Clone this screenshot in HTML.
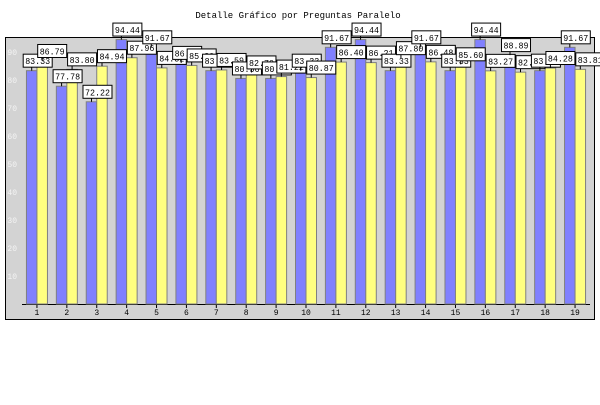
<!DOCTYPE html>
<html><head><meta charset="utf-8"><style>
body{margin:0;background:#fff;}
text{font-family:"Liberation Mono",monospace;}
</style></head><body>
<svg id="chart" width="600" height="400" xmlns="http://www.w3.org/2000/svg">
<text x="298" y="18" text-anchor="middle" font-size="9">Detalle Gráfico por Preguntas Paralelo</text>
<rect x="5.5" y="37.5" width="589" height="282" fill="#d3d3d3" stroke="#000" stroke-width="1"/>
<g id="grid"></g><g id="bars"></g><g id="labels"></g>
</svg>
<script>
const categories=["1","2","3","4","5","6","7","8","9","10","11","12","13","14","15","16","17","18","19"];
const seriesBlue=[83.33,77.78,72.22,94.44,91.67,86.11,83.33,80.56,80.56,83.33,91.67,94.44,83.33,91.67,83.33,94.44,88.89,83.33,91.67];
const seriesYellow=[86.79,83.80,84.94,87.96,84.32,85.20,83.59,82.70,81.22,80.87,86.40,86.21,87.80,86.48,85.60,83.27,82.80,84.28,83.81];
const yTicks=[10,20,30,40,50,60,70,80,90];
const NS="http://www.w3.org/2000/svg";
const x0=22,x1=590,y0=304,pxPerUnit=2.8;
const gw=(x1-x0)/categories.length, bw=10.5;
const y=v=>y0-v*pxPerUnit;
const gx=i=>x0+gw*(i+0.5);
function mk(tag,attrs,parent){const e=document.createElementNS(NS,tag);for(const k in attrs)e.setAttribute(k,attrs[k]);parent.appendChild(e);return e;}
const grid=document.getElementById('grid'),bars=document.getElementById('bars'),labels=document.getElementById('labels');
yTicks.forEach(t=>{
  const tx=mk('text',{x:17,y:y(t)+3,'text-anchor':'end','font-size':'8',fill:'#f4f4f4'},grid);
  
  
  tx.textContent=t;
});
const ax=mk('line',{x1:x0,y1:y0+0.5,x2:x1,y2:y0+0.5,stroke:'#000'},grid);


const series=[[seriesBlue,'#8080ff','blue'],[seriesYellow,'#ffff80','yellow']];
categories.forEach((c,i)=>{
  const cx=gx(i);
  series.forEach(([arr,col,nm],s)=>{
    const bx=cx-bw+s*bw, top=y(arr[i]);
    const r=mk('rect',{x:bx,y:top,width:bw,height:y0-top,fill:col,stroke:'#808080','stroke-width':1},bars);
    
    
  });
  const tk=mk('line',{x1:cx,y1:y0,x2:cx,y2:y0+4,stroke:'#000'},grid);
  
  
  const lt=mk('text',{x:cx,y:y0+11,'text-anchor':'middle','font-size':'8',fill:'#000'},grid);
  
  
  lt.textContent=c;
});
categories.forEach((c,i)=>{
  const cx=gx(i);
  series.forEach(([arr,col,nm],s)=>{
    const bc=cx-bw/2+s*bw, top=y(arr[i]);
    const g=mk('g',{},labels);
    
    
    mk('line',{x1:bc,y1:top,x2:bc,y2:top-4,stroke:'#000'},g);
    const bxl=bc-(s?5:9);
    mk('rect',{x:bxl+0.5,y:top-16.5,width:29,height:13,fill:'#fff',stroke:'#000'},g);
    const t=mk('text',{x:bxl+2.5,y:top-6.5,'font-size':'9.5',textLength:'25',lengthAdjust:'spacingAndGlyphs',fill:'#000'},g);
    t.textContent=arr[i].toFixed(2);
  });
});
</script>
</body></html>
